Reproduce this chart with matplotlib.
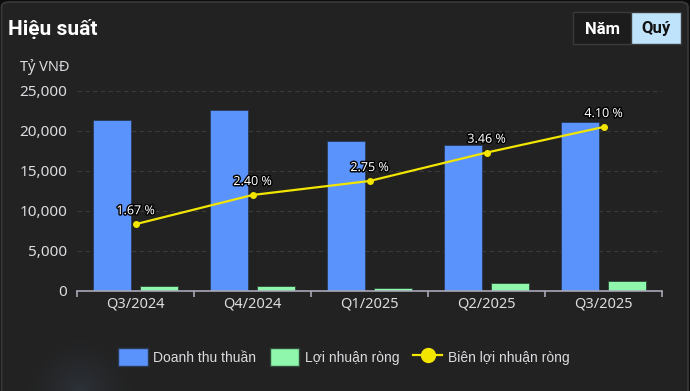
import matplotlib.pyplot as plt
import matplotlib.patheffects as pe
from matplotlib.patches import FancyBboxPatch, Rectangle
from matplotlib.lines import Line2D
import numpy as np

# du lieu doc tu hinh
quarters = ['Q3/2024', 'Q4/2024', 'Q1/2025', 'Q2/2025', 'Q3/2025']
revenue = [21400, 22600, 18800, 18250, 21100]      # Doanh thu thuần (tỷ VNĐ)
net_profit = [660, 660, 380, 1040, 1200]           # Lợi nhuận ròng (tỷ VNĐ)
margin = [1.67, 2.40, 2.75, 3.46, 4.10]            # Biên lợi nhuận ròng (%)
yticks = [0, 5000, 10000, 15000, 20000, 25000]

BG = '#222222'
BLUE = '#5b93fc'
GREEN = '#8ff7ab'
YELLOW = '#f2e500'
TXT = '#dcdce0'

plt.rcParams['font.family'] = ['Noto Sans', 'DejaVu Sans']

W, H = 690, 391
fig = plt.figure(figsize=(W / 100, H / 100), dpi=100, facecolor='#0c0c0c')

# the nen bo goc
card = FancyBboxPatch((1.5 / W, -20 / H), (W - 3.5) / W, (H + 18) / H,
                      boxstyle='round,pad=0,rounding_size=0.012',
                      transform=fig.transFigure, facecolor=BG,
                      edgecolor='#3a3a3a', linewidth=1.2, zorder=-3)
fig.patches.append(card)

# vet sang mo o goc duoi trai
glow_ax = fig.add_axes([0, 0, 160 / W, 80 / H], zorder=-2)
gx, gy = np.meshgrid(np.linspace(0, 160, 160), np.linspace(0, 80, 80))
dist = np.hypot(gx - 80, gy - 0) / 70
alpha = np.clip(1 - dist, 0, 1) ** 2 * 0.2
img = np.zeros((80, 160, 4))
img[..., 0], img[..., 1], img[..., 2] = 0.35, 0.45, 0.6
img[..., 3] = alpha
glow_ax.imshow(img, origin='lower', aspect='auto', interpolation='bilinear')
glow_ax.axis('off')

# tieu de
fig.text(8 / W, 1 - 29 / H, 'Hiệu suất', color='white', fontsize=15,
         fontweight='bold', va='center', ha='left',
         family=['Roboto', 'DejaVu Sans'])

# nut Năm / Quý
fig.patches.append(Rectangle((573 / W, 1 - 44 / H), 58 / W, 32 / H,
                             transform=fig.transFigure, facecolor='#1c1c1c',
                             edgecolor='#3a3a3a', linewidth=1, zorder=-1))
fig.patches.append(Rectangle((631 / W, 1 - 44 / H), 50 / W, 32 / H,
                             transform=fig.transFigure, facecolor='#bfe3fb',
                             edgecolor='#3a3a3a', linewidth=1, zorder=-1))
fig.text(602 / W, 1 - 29 / H, 'Năm', color='white', fontsize=12,
         fontweight='bold', ha='center', va='center',
         family=['Roboto', 'DejaVu Sans'])
fig.text(656 / W, 1 - 29 / H, 'Quý', color='#111111', fontsize=12,
         fontweight='bold', ha='center', va='center',
         family=['Roboto', 'DejaVu Sans'])

fig.text(20 / W, 1 - 67 / H, 'Tỷ VNĐ', color=TXT, fontsize=10.5,
         ha='left', va='center')

# truc chinh
ax = fig.add_axes([77 / W, 1 - 291 / H, (662 - 77) / W, (291 - 91) / H])
ax.set_facecolor('none')
x = np.arange(len(quarters))
w = 0.33
ax.bar(x - 0.2, revenue, w, color=BLUE, edgecolor='#2a3a55', linewidth=0.6, zorder=2)
ax.bar(x + 0.2, net_profit, w, color=GREEN, edgecolor='#2f4a38', linewidth=0.6, zorder=2)

ax.set_xlim(-0.5, len(quarters) - 0.5)
ax.set_ylim(0, 25000)
ax.set_yticks(yticks)
ax.set_yticklabels([f'{v:,}' for v in yticks])
ax.yaxis.grid(True, color='#3a3a3a', linestyle=(0, (4, 3)), linewidth=0.8)
ax.set_axisbelow(True)
for s in ['top', 'right', 'left']:
    ax.spines[s].set_visible(False)
ax.spines['bottom'].set_color('#a8a8b8')
ax.spines['bottom'].set_linewidth(1.2)
ax.spines['bottom'].set_zorder(3)

ax.set_xticks(x)
ax.set_xticklabels(quarters)
ax.set_xticks(np.arange(-0.5, len(quarters), 1.0), minor=True)
ax.tick_params(axis='x', which='major', length=0, pad=4, labelsize=10.5, labelcolor=TXT)
ax.tick_params(axis='x', which='minor', length=4, width=1.2, color='#a8a8b8')
ax.tick_params(axis='y', length=0, pad=7, labelsize=11, labelcolor=TXT)

# truc phu cho bien loi nhuan
ax2 = ax.twinx()
ax2.set_ylim(0, 5)
ax2.axis('off')
ax2.plot(x, margin, color=YELLOW, linewidth=1.6, marker='o', markersize=4, zorder=4)
for xi, m in zip(x, margin):
    ax2.annotate(f'{m:.2f} %', (xi, m), xytext=(0, 5), textcoords='offset points',
                 ha='center', va='bottom', color='white', fontsize=9,
                 path_effects=[pe.withStroke(linewidth=2, foreground='black')])

# chu thich
handles = [
    Rectangle((0, 0), 1, 1, facecolor=BLUE, edgecolor='#2a3a55'),
    Rectangle((0, 0), 1, 1, facecolor=GREEN, edgecolor='#2f4a38'),
    Line2D([0], [0], color=YELLOW, linewidth=1.6, marker='o', markersize=10),
]
labels = ['Doanh thu thuần', 'Lợi nhuận ròng', 'Biên lợi nhuận ròng']
leg = fig.legend(handles, labels, loc='center', bbox_to_anchor=(344 / W, 1 - 357 / H),
                 ncol=3, frameon=False, handlelength=2.1,
                 handleheight=1.6, columnspacing=1.0, handletextpad=0.4,
                 prop={'family': ['Liberation Sans', 'DejaVu Sans'], 'size': 10})
for t in leg.get_texts():
    t.set_color(TXT)

fig.savefig('out.png', dpi=100, facecolor=fig.get_facecolor())
